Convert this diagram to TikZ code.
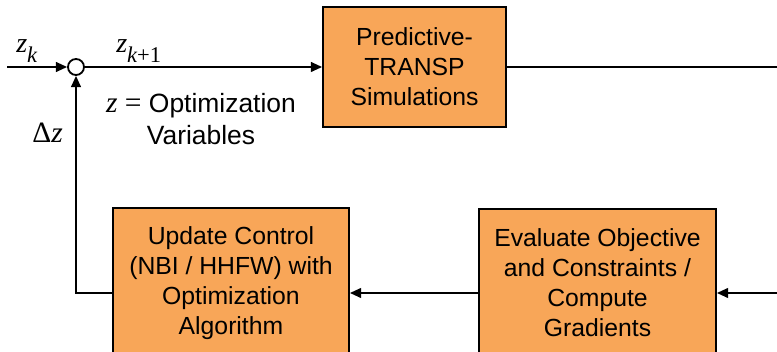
\documentclass[tikz,border=0pt]{standalone}
\usepackage{fontspec}
\setmainfont{Liberation Sans}
\newfontfamily\tms{Liberation Serif}
\usetikzlibrary{arrows.meta}
\definecolor{boxorange}{RGB}{248,166,88}
\newcommand\zsub[1]{{\tms\itshape z}\raisebox{-6.5pt}{\tms\fontsize{16}{18}\selectfont #1}}

\begin{document}
\begin{tikzpicture}[x=0.025cm,y=-0.025cm]
\tikzset{BlockStyle/.style =
	{draw,
		fill = boxorange,
		line width = 1.3pt,
		align = center,
		inner sep = 0pt,
		font = \fontsize{17.6}{21.3}\selectfont},
	SumStyle/.style = {draw, circle, fill = white,
		line width = 1.3pt, minimum size = 0.4cm, inner sep = 0pt},
	MathLabel/.style = {anchor = base west, inner sep = 0pt,
		font = \tms\fontsize{20}{23}\selectfont},
	Flow/.style = {line width = 1.3pt, -{Triangle[length=8pt,width=7pt]}}}
\clip (0,0) rectangle (777,352);
% blocks
\node[SumStyle] (S) at (76,67) {};
\node[BlockStyle, minimum width=4.575cm, minimum height=3cm] (T) at (414.5,67)
	{Predictive-\\TRANSP\\Simulations};
\node[BlockStyle, minimum width=5.925cm, minimum height=3.7cm] (E) at (597.5,283)
	{Evaluate Objective\\and Constraints /\\Compute\\Gradients};
\node[BlockStyle, minimum width=5.9cm, minimum height=3.75cm] (U) at (231,283)
	{Update Control\\(NBI / HHFW) with\\Optimization\\Algorithm};
% labels
\node[MathLabel] (zk) at (16,53) {\zsub{\itshape k}};
\node[MathLabel] (zk1) at (116,53) {\zsub{{\itshape k}+1}};
\node[align=center, font=\fontsize{18.8}{22.7}\selectfont] (var) at (201,119)
	{{\tms\fontsize{21}{22}\selectfont\itshape z} {\tms\fontsize{21}{22}\selectfont=} Optimization\\Variables};
\node[MathLabel, font=\tms\fontsize{21}{24}\selectfont] (dz) at (32,143) {Δ\textit{z}};
% ends
\coordinate (in) at (7,67);
\coordinate (out) at (780,67);
\coordinate (back) at (780,293);
\coordinate (corner) at (76,293);
\draw[Flow] (in) -- (S);
\draw[Flow] (S) -- (T);
\draw[line width=1.3pt] (T) -- (out);
\draw[Flow] (back) -- (back -| E.east);
\draw[Flow] (E.west |- back) -- (U.east |- back);
\draw[Flow] (U.west |- back) -- (corner) -- (S);
\end{tikzpicture}
\end{document}
